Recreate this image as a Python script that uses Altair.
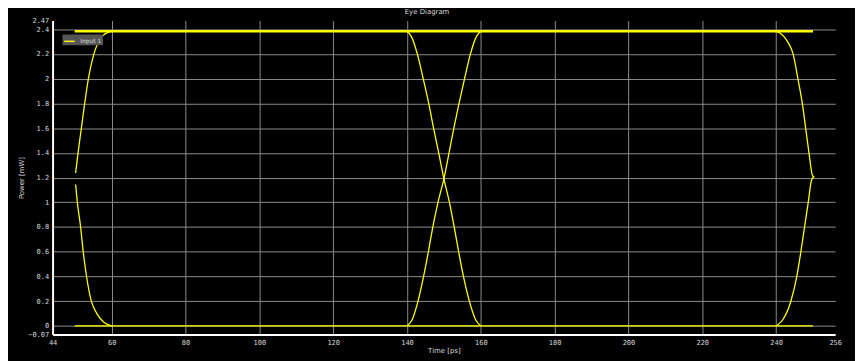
import altair as alt
import pandas as pd

# ---- data ----
left_rise_t = [50.24, 50.9, 51.8, 52.7, 53.7, 55.2, 56.5, 57.7, 59.0, 60.0]
left_rise_v = [1.237, 1.4, 1.6, 1.8, 2.0, 2.2, 2.3, 2.35, 2.375, 2.383]

left_fall_t = [50.24, 50.7, 51.6, 52.3, 53.2, 54.5, 56.0, 57.9, 60.0]
left_fall_v = [1.144, 1.0, 0.8, 0.6, 0.4, 0.2, 0.1, 0.03, 0.0]

mid_fall_t = [140.0, 141.2, 142.8, 144.4, 145.9, 147.2, 148.6, 150.0, 151.5, 152.8, 154.0, 155.3, 156.9, 158.6, 160.0]
mid_fall_v = [2.383, 2.34, 2.2, 2.0, 1.8, 1.6, 1.4, 1.19, 1.0, 0.8, 0.6, 0.4, 0.2, 0.05, 0.0]

mid_rise_t = [140.0, 141.4, 143.0, 144.5, 145.8, 147.0, 148.4, 150.0, 151.4, 152.7, 154.1, 155.6, 157.2, 158.8, 160.0]
mid_rise_v = [0.0, 0.05, 0.2, 0.4, 0.6, 0.8, 1.0, 1.19, 1.4, 1.6, 1.8, 2.0, 2.2, 2.34, 2.383]

right_fall_t = [240.0, 241.5, 243.1, 244.6, 245.9, 247.1, 248.0, 248.9, 249.8, 250.3]
right_fall_v = [2.383, 2.36, 2.3, 2.2, 2.0, 1.8, 1.6, 1.4, 1.22, 1.2]

right_rise_t = [240.0, 241.8, 244.0, 245.6, 246.7, 247.7, 248.7, 249.6, 250.3]
right_rise_v = [0.0, 0.05, 0.2, 0.4, 0.6, 0.8, 1.0, 1.18, 1.21]

top_a_t = [50.0, 250.0]
top_a_v = [2.379, 2.379]
top_b_t = [50.0, 250.0]
top_b_v = [2.387, 2.387]

bottom_t = [50.0, 250.0]
bottom_v = [0.0, 0.0]

x_ticks = [44, 60, 80, 100, 120, 140, 160, 180, 200, 220, 240, 256]
y_ticks = [-0.07, 0, 0.2, 0.4, 0.6, 0.8, 1.0, 1.2, 1.4, 1.6, 1.8, 2.0, 2.2, 2.4, 2.47]

series_name = "Input 1"

traces = {
    "left_rise": (left_rise_t, left_rise_v),
    "left_fall": (left_fall_t, left_fall_v),
    "mid_fall": (mid_fall_t, mid_fall_v),
    "mid_rise": (mid_rise_t, mid_rise_v),
    "right_fall": (right_fall_t, right_fall_v),
    "right_rise": (right_rise_t, right_rise_v),
    "top_a": (top_a_t, top_a_v),
    "top_b": (top_b_t, top_b_v),
    "bottom": (bottom_t, bottom_v),
}

rows = []
for name, (ts, vs) in traces.items():
    for i, (t, v) in enumerate(zip(ts, vs)):
        rows.append({"trace": name, "order": i, "time": t, "power": v, "series": series_name})
df = pd.DataFrame(rows)

grid_cond_x = alt.condition("datum.value == 44 || datum.value == 256",
                            alt.value("transparent"), alt.value("#8c8c8c"))
grid_cond_y = alt.condition("datum.value == -0.07 || datum.value == 2.47",
                            alt.value("transparent"), alt.value("#8c8c8c"))

x_enc = alt.X("time:Q",
              scale=alt.Scale(domain=[44, 256], nice=False, zero=False),
              axis=alt.Axis(values=x_ticks, title="Time [ps]", format="d",
                            gridColor=grid_cond_x, gridWidth=1,
                            domainColor="#ffffff", domainWidth=2,
                            ticks=False, labelPadding=4,
                            labelFont="DejaVu Sans Mono", labelFontSize=7,
                            labelColor="#d8d8d8", labelFlush=False,
                            titleFont="DejaVu Sans", titleFontSize=7,
                            titleFontWeight="normal", titleColor="#d8d8d8",
                            titleX=395, titleY=16, titleBaseline="middle",
                            titleAlign="center"))
y_enc = alt.Y("power:Q",
              scale=alt.Scale(domain=[-0.07, 2.47], nice=False, zero=False),
              axis=alt.Axis(values=y_ticks, title="Power [mW]",
                            labelExpr="datum.value == 2.47 || datum.value == -0.07 ? format(datum.value, '.2f') : format(datum.value, '~g')",
                            gridColor=grid_cond_y, gridWidth=1,
                            domainColor="#ffffff", domainWidth=2,
                            ticks=False, labelPadding=4,
                            labelFont="DejaVu Sans Mono", labelFontSize=7,
                            labelColor="#d8d8d8", labelFlush=False,
                            titleFont="DejaVu Sans", titleFontSize=7,
                            titleFontWeight="normal", titleColor="#d8d8d8",
                            titleX=-31, titleY=158.5, titleAngle=270,
                            titleBaseline="middle", titleAlign="center"))
c_enc = alt.Color("series:N",
                  scale=alt.Scale(domain=[series_name], range=["#ffff00"]),
                  legend=alt.Legend(title=None, orient="none", legendX=10, legendY=14,
                                    fillColor="#555555", padding=1,
                                    symbolType="stroke", symbolSize=110,
                                    symbolStrokeWidth=1.5, labelOffset=5,
                                    labelFont="DejaVu Sans", labelFontSize=6,
                                    labelColor="#dcdcdc"))

base = alt.Chart(df).encode(x=x_enc, y=y_enc, color=c_enc, detail="trace:N", order="order:Q")

edges = base.transform_filter(
    "datum.trace != 'top_a' && datum.trace != 'top_b'"
).mark_line(strokeWidth=1.3, interpolate="monotone")

tops = base.transform_filter(
    "datum.trace == 'top_a' || datum.trace == 'top_b'"
).mark_line(strokeWidth=1.5)

chart = alt.layer(edges, tops).properties(
    width=790,
    height=317,
    autosize=alt.AutoSizeParams(type="none"),
    padding={"left": 45, "top": 11, "right": 20, "bottom": 25},
    title=alt.TitleParams("Eye Diagram", anchor="middle", fontSize=7,
                          font="DejaVu Sans", fontWeight="normal",
                          color="#d8d8d8", offset=2, dx=-17),
).configure(background="#000000").configure_view(strokeWidth=0)

chart.save("out.html", embed_options={"renderer": "svg", "actions": False})
